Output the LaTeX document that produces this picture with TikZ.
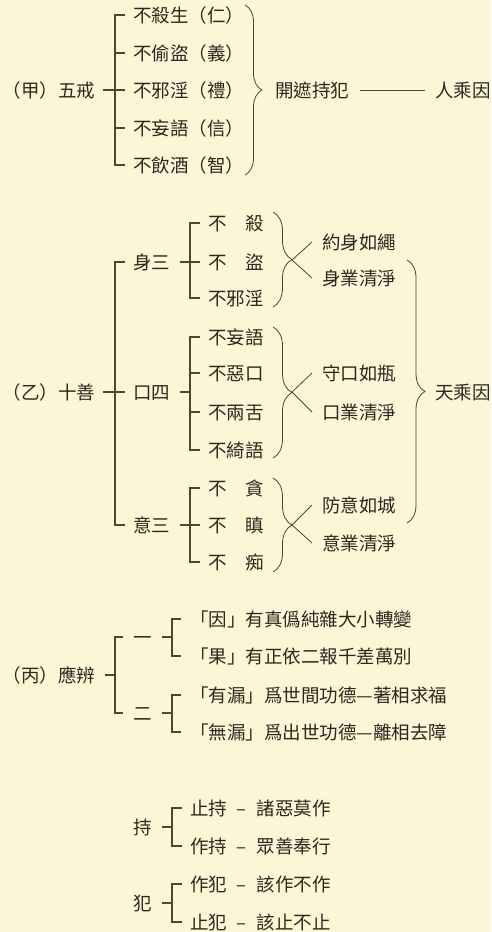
\documentclass[tikz,border=0pt]{standalone}
\usepackage{fontspec}
\newfontfamily\cjk{Noto Sans CJK TC}
\usetikzlibrary{positioning, decorations.pathreplacing}
\definecolor{paper}{RGB}{250,246,214}
\definecolor{ink}{RGB}{45,40,30}
\definecolor{rulec}{RGB}{78,70,52}
\tikzset{
    x=1pt, y=-1pt, % one unit is one pixel of the page, y runs down
    every node/.style={inner sep=0pt, outer sep=0pt, text=ink,
        font=\cjk\fontsize{18.5}{20}\selectfont, text height=16pt, text depth=2pt}, % every label
    item/.style={anchor=west}, % text that hangs on a bracket
    head/.style={anchor=east}, % the heads at the left margin
    bar/.style={draw=rulec, line width=1.2pt}, % bracket lines
    brc/.style={draw=rulec, line width=0.8pt, decorate, decoration={brace, amplitude=#1}}, % curly braces
    brc/.default=19pt,
    twig/.style={draw=rulec, line width=0.8pt}, % the fork after a brace
}

\begin{document}
\begin{tikzpicture}
    \path[use as bounding box, fill=paper] (0,0) rectangle (491,932);

    % (jia) five precepts
    \node[head] (wj) at (95,90) {（甲）五戒};
    \node[item] (w1) at (133,15) {不殺生（仁）};
    \node[item] (w2) at (133,53) {不偷盜（義）};
    \node[item] (w3) at (133,90) {不邪淫（禮）};
    \node[item] (w4) at (133,128) {不妄語（信）};
    \node[item] (w5) at (133,165) {不飲酒（智）};
    \node[item] (kz) at (275,90) {開遮持犯};
    \node[item] (rc) at (435,90) {人乘因};
    \draw[bar] ([xshift=-8pt]w1.west) -- ++(-10,0) |- ([xshift=-8pt]w5.west);
    \draw[bar] ([xshift=-8pt]w2.west) -- ++(-10,0);
    \draw[bar] ([xshift=-8pt]w4.west) -- ++(-10,0);
    \draw[bar] ([xshift=8pt]wj.east) -- ([xshift=-8pt]w3.west);
    \draw[brc=17pt] (245,5) -- (245,175);
    \draw[twig] ([xshift=11pt]kz.east) -- ([xshift=-10pt]rc.west);

    % (yi) ten good deeds
    \node[head] (sh) at (95,392) {（乙）十善};
    \node[item] (sn) at (133,262) {身三};
    \node[item] (kk) at (133,392) {口四};
    \node[item] (yi) at (133,525) {意三};
    \node[item] (s1) at (208,223) {不\hspace{1em}殺};
    \node[item] (s2) at (208,262) {不\hspace{1em}盜};
    \node[item] (s3) at (208,298) {不邪淫};
    \node[item] (k1) at (208,337) {不妄語};
    \node[item] (k2) at (208,373) {不惡口};
    \node[item] (k3) at (208,412) {不兩舌};
    \node[item] (k4) at (208,450) {不綺語};
    \node[item] (y1) at (208,488) {不\hspace{1em}貪};
    \node[item] (y2) at (208,525) {不\hspace{1em}瞋};
    \node[item] (y3) at (208,562) {不\hspace{1em}痴};
    \draw[bar] ([xshift=-8pt]sn.west) -- ++(-10,0) |- ([xshift=-8pt]yi.west);
    \draw[bar] ([xshift=8pt]sh.east) -- ([xshift=-8pt]kk.west);
    \draw[bar] ([xshift=-8pt]s1.west) -- ++(-10,0) |- ([xshift=-8pt]s3.west);
    \draw[bar] ([xshift=10pt]sn.east) -- ([xshift=-8pt]s2.west);
    \draw[bar] ([xshift=-8pt]k1.west) -- ++(-10,0) |- ([xshift=-8pt]k4.west);
    \draw[bar] ([xshift=-8pt]k2.west) -- ++(-10,0);
    \draw[bar] ([xshift=-8pt]k3.west) -- ++(-10,0);
    \draw[bar] ([xshift=10pt]kk.east) -- ++(10,0);
    \draw[bar] ([xshift=-8pt]y1.west) -- ++(-10,0) |- ([xshift=-8pt]y3.west);
    \draw[bar] ([xshift=10pt]yi.east) -- ([xshift=-8pt]y2.west);

    \node[item] (sa) at (322,242) {約身如繩};
    \node[item] (sb) at (322,278) {身業清淨};
    \node[item] (ka) at (322,373) {守口如瓶};
    \node[item] (kb) at (322,412) {口業清淨};
    \node[item] (ya) at (322,505) {防意如城};
    \node[item] (yb) at (322,543) {意業清淨};
    \node[item] (tc) at (435,392) {天乘因};
    \draw[brc] (273,212) -- (273,307);
    \draw[brc] (273,327) -- (273,458);
    \draw[brc] (273,478) -- (273,572);
    \coordinate (ts) at (292,260);
    \coordinate (tk) at (292,392);
    \coordinate (ty) at (292,525);
    \draw[twig] (ts) -- ([xshift=-10pt]sa.west) (ts) -- ([xshift=-10pt]sb.west);
    \draw[twig] (tk) -- ([xshift=-10pt]ka.west) (tk) -- ([xshift=-10pt]kb.west);
    \draw[twig] (ty) -- ([xshift=-10pt]ya.west) (ty) -- ([xshift=-10pt]yb.west);
    \draw[brc=18pt] (407,260) -- (407,523);

    % (bing) what to discern
    \node[head] (bn) at (95,675) {（丙）應辨};
    \node[item] (one) at (133,637) {一};
    \node[item] (two) at (133,713) {二};
    \node[item] (b1) at (190,619) {「因」有真僞純雜大小轉變};
    \node[item] (b2) at (190,656) {「果」有正依二報千差萬別};
    \node[item] (b3) at (190,695) {「有漏」爲世間功德—著相求福};
    \node[item] (b4) at (190,732) {「無漏」爲出世功德—離相去障};
    \draw[bar] ([xshift=10pt]bn.east) -- ++(10,0);
    \draw[bar] ([xshift=-10pt]one.west) -- ++(-8,0) |- ([xshift=-10pt]two.west);
    \draw[bar] ([xshift=10pt]one.east) -- ++(10,0);
    \draw[bar] ([xshift=-9pt]b1.west) -- ++(-9,0) |- ([xshift=-9pt]b2.west);
    \draw[bar] ([xshift=10pt]two.east) -- ++(10,0);
    \draw[bar] ([xshift=-9pt]b3.west) -- ++(-9,0) |- ([xshift=-9pt]b4.west);

    % keeping and breaking
    \node[item] (chi) at (133,827) {持};
    \node[item] (fan) at (133,903) {犯};
    \node[item] (c1) at (190,808) {止持\hspace{10pt}–\hspace{10pt}諸惡莫作};
    \node[item] (c2) at (190,846) {作持\hspace{10pt}–\hspace{10pt}眾善奉行};
    \node[item] (f1) at (190,884) {作犯\hspace{10pt}–\hspace{10pt}該作不作};
    \node[item] (f2) at (190,922) {止犯\hspace{10pt}–\hspace{10pt}該止不止};
    \draw[bar] ([xshift=10pt]chi.east) -- ++(10,0);
    \draw[bar] ([xshift=-8pt]c1.west) -- ++(-10,0) |- ([xshift=-8pt]c2.west);
    \draw[bar] ([xshift=10pt]fan.east) -- ++(10,0);
    \draw[bar] ([xshift=-8pt]f1.west) -- ++(-10,0) |- ([xshift=-8pt]f2.west);
\end{tikzpicture}
\end{document}
